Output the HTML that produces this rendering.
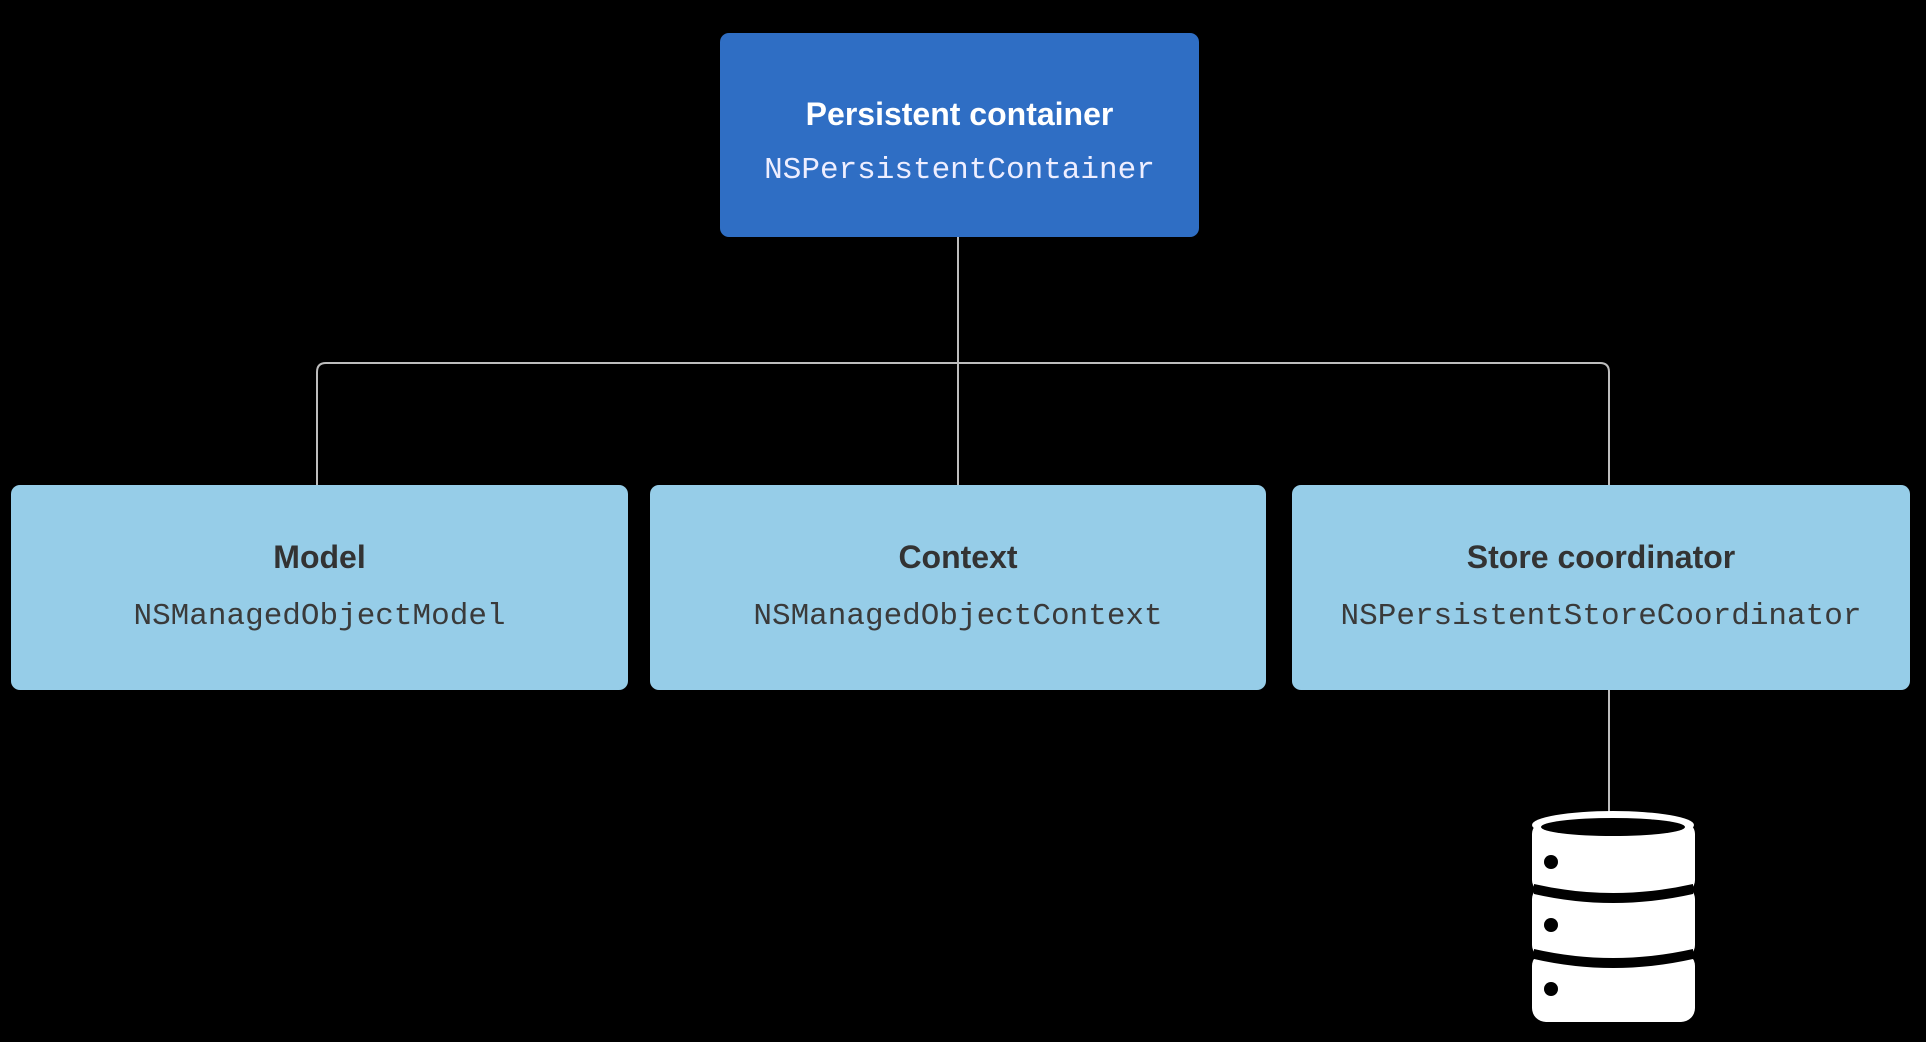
<!DOCTYPE html>
<html><head><meta charset="utf-8"><style>
html,body{margin:0;padding:0;background:#000;}
body{width:1926px;height:1042px;position:relative;overflow:hidden;}
.box{position:absolute;border-radius:9px;text-align:center;}
.t{position:absolute;left:0;right:0;font-family:"Liberation Sans",sans-serif;font-weight:bold;font-size:32px;}
.m{position:absolute;left:0;right:0;font-family:"Liberation Mono",monospace;font-size:31px;}
.light{background:#96cde8;color:#333;}
.light .t{top:54px;color:#333;}
.light .m{top:114px;color:#3a3a3a;}
</style></head><body>
<svg width="1926" height="1042" style="position:absolute;left:0;top:0">
<g stroke="#bdbdbd" stroke-width="2" fill="none">
<line x1="958" y1="237" x2="958" y2="485"/>
<path d="M317 485 V372 Q317 363 326 363 H1600 Q1609 363 1609 372 V485"/>
<line x1="1609" y1="690" x2="1609" y2="812"/>
</g>
<g fill="#fff">
<rect x="1532" y="822" width="163" height="70" rx="12"/>
<rect x="1532" y="887" width="163" height="70" rx="12"/>
<rect x="1532" y="952" width="163" height="70" rx="14"/>
<ellipse cx="1613" cy="825" rx="81" ry="14"/>
</g>
<ellipse cx="1613" cy="827" rx="72" ry="9" fill="#000"/>
<path d="M1534 884 Q1613 902 1693 884 L1693 894 Q1613 912 1534 894Z" fill="#000"/>
<path d="M1534 949 Q1613 967 1693 949 L1693 959 Q1613 977 1534 959Z" fill="#000"/>
<circle cx="1551" cy="862" r="7" fill="#000"/>
<circle cx="1551" cy="925" r="7" fill="#000"/>
<circle cx="1551" cy="989" r="7" fill="#000"/>
</svg>
<div class="box" style="left:720px;top:33px;width:479px;height:204px;background:#2f6ec4;color:#fff">
<div class="t" style="top:63px">Persistent container</div>
<div class="m" style="top:120px;color:#eef">NSPersistentContainer</div>
</div>
<div class="box light" style="left:11px;top:485px;width:617px;height:205px"><div class="t">Model</div><div class="m">NSManagedObjectModel</div></div>
<div class="box light" style="left:650px;top:485px;width:616px;height:205px"><div class="t">Context</div><div class="m">NSManagedObjectContext</div></div>
<div class="box light" style="left:1292px;top:485px;width:618px;height:205px"><div class="t">Store coordinator</div><div class="m">NSPersistentStoreCoordinator</div></div>
</body></html>
